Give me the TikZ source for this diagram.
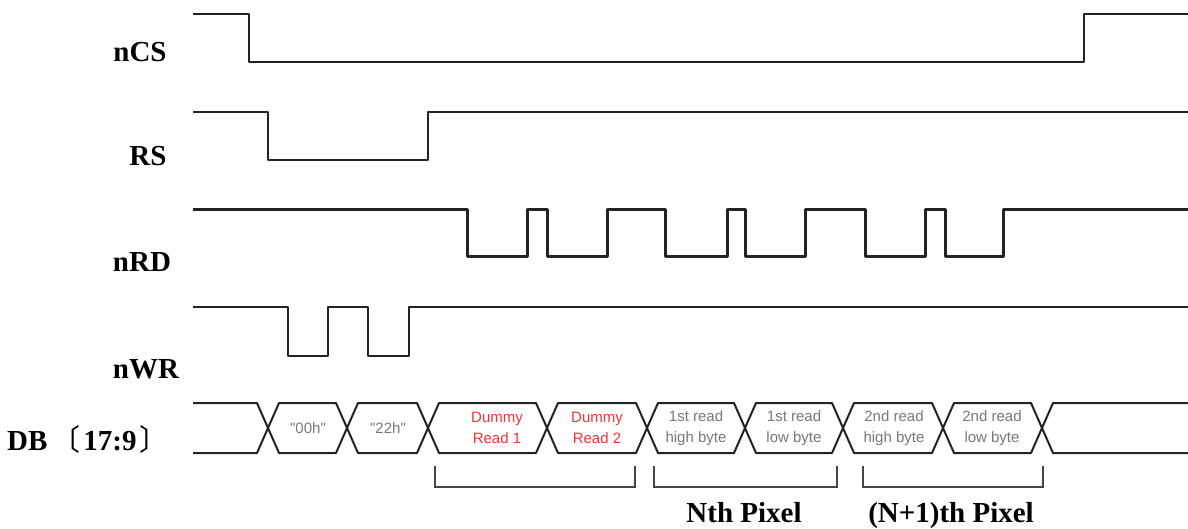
\documentclass[tikz,border=0pt]{standalone}
\usepackage{fontspec}
\setmainfont{Liberation Serif}
\newfontfamily\busfont{Liberation Sans}
\newfontfamily\cjk{Noto Sans CJK SC}
\definecolor{sigc}{RGB}{35,35,35}
\definecolor{txtgray}{RGB}{120,120,120}
\definecolor{dummyred}{RGB}{235,55,55}
\definecolor{brkc}{RGB}{70,70,70}
\tikzset{
  sig/.style={draw=sigc, line width=2.2pt, line join=round},
  sigthick/.style={draw=sigc, line width=3pt, line join=round},
  bus/.style={draw=sigc, line width=2pt, line join=round},
  lbl/.style={font=\fontsize{29}{32}\selectfont\bfseries, anchor=base, inner sep=0pt},
  bustxt/.style={font=\busfont\fontsize{15}{21}\selectfont, text=txtgray, align=center, inner sep=0pt},
  redtxt/.style={bustxt, text=dummyred},
  brk/.style={draw=brkc, line width=2pt},
}
\begin{document}
\begin{tikzpicture}[x=1pt,y=-1pt]
\useasboundingbox (0,0) rectangle (1188,529);
% labels
\node[lbl] (lcs) at (140,62) {nCS};
\node[lbl] (lrs) at (148,166) {RS};
\node[lbl] (lrd) at (142,272) {nRD};
\node[lbl] (lwr) at (146,378) {nWR};
\node[lbl, anchor=base west] (ldb) at (7,450) {DB\hspace{4pt}{\cjk\mdseries 〔}\hspace{3pt}17:9\hspace{3pt}{\cjk\mdseries 〕}};
% signals
\draw[sig] (193,14) -| (249,62) -| (1084,14) -- (1188,14);
\draw[sig] (193,112) -| (268,160) -| (428,112) -- (1188,112);
\draw[sigthick] (193,210) -| (467,257) -| (527,210) -| (547,257) -| (607,210) -| (665,257)
  -| (727,210) -| (745,257) -| (805,210) -| (865,257) -| (925,210) -| (945,257) -| (1003,210) -- (1188,210);
\draw[sig] (193,307) -| (288,356) -| (328,307) -| (368,356) -| (409,307) -- (1188,307);
% bus
\def\d{11}
\draw[bus] (193,403) -- (257,403) -- (268,428) -- (257,453) -- (193,453);
\foreach \a/\b in {268/347,347/428,428/547,547/647,647/745,745/843,843/943,943/1042}{
  \draw[bus] (\a,428) -- (\a+\d,403) -- (\b-\d,403) -- (\b,428) -- (\b-\d,453) -- (\a+\d,453) -- cycle;
}
\draw[bus] (1188,403) -- (1053,403) -- (1042,428) -- (1053,453) -- (1188,453);
% bus texts
\node[bustxt] (t00) at (308,428) {"00h"};
\node[bustxt] (t22) at (388,428) {"22h"};
\node[redtxt] (td1) at (497,428) {Dummy\\Read 1};
\node[redtxt] (td2) at (597,428) {Dummy\\Read 2};
\node[bustxt] (t1h) at (696,428) {1st read\\high byte};
\node[bustxt] (t1l) at (794,428) {1st read\\low byte};
\node[bustxt] (t2h) at (894,428) {2nd read\\high byte};
\node[bustxt] (t2l) at (992,428) {2nd read\\low byte};
% brackets
\draw[brk] (435,466) -- (435,487) -- (635,487) -- (635,466);
\draw[brk] (654,466) -- (654,487) -- (837,487) -- (837,466);
\draw[brk] (863,466) -- (863,487) -- (1043,487) -- (1043,466);
\node[lbl] (lnp) at (744,522) {Nth Pixel};
\node[lbl] (ln1p) at (951,522) {(N+1)th Pixel};
\end{tikzpicture}
\end{document}
